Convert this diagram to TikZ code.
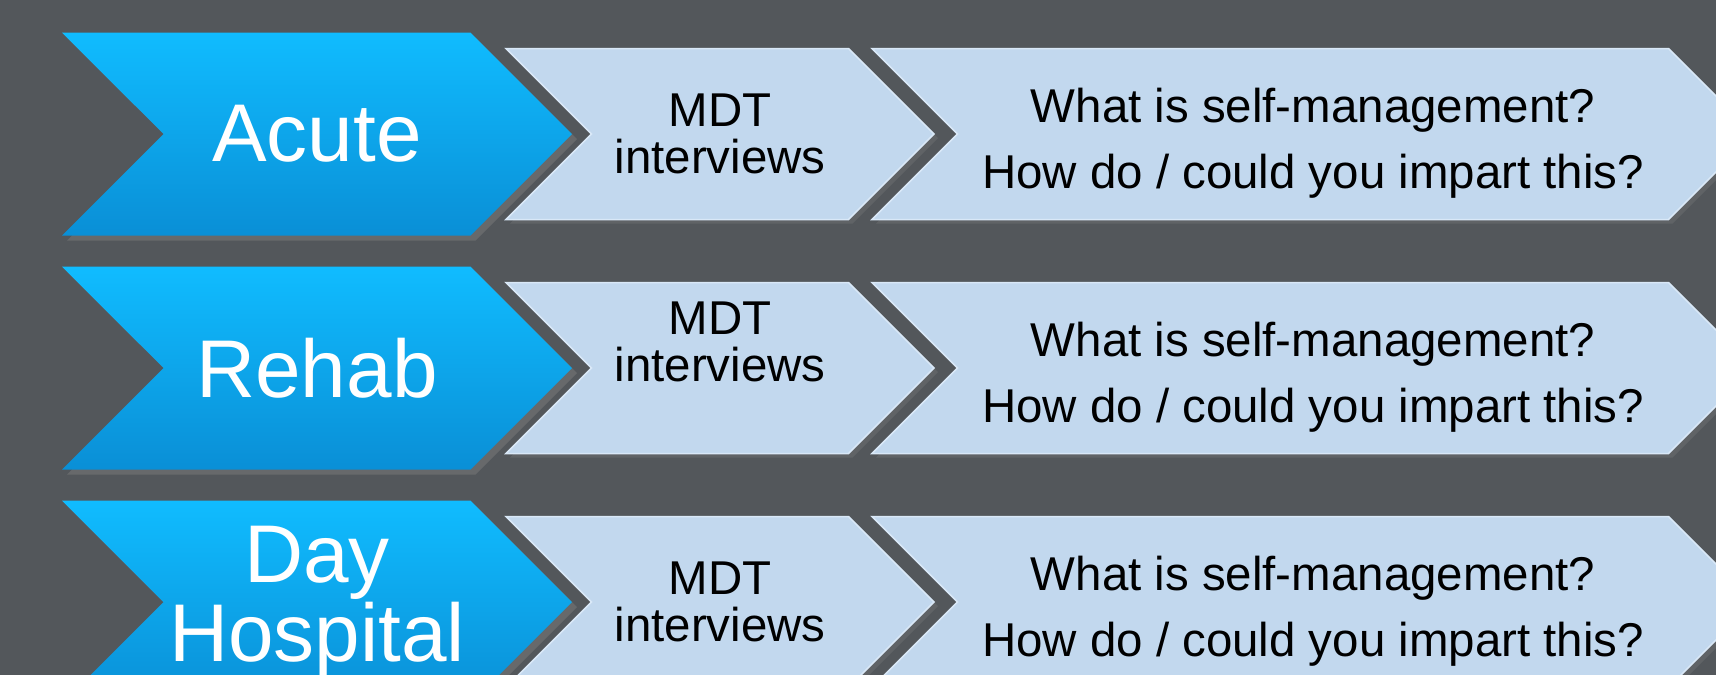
\documentclass[tikz,border=0pt]{standalone}
\usepackage{fontspec}
\setmainfont{Liberation Sans}
\usetikzlibrary{shapes.symbols,shadows}
\definecolor{slate}{HTML}{53575B}
\definecolor{cyanhi}{HTML}{10BCFF}
\definecolor{cyanlo}{HTML}{0A8FD6}
\definecolor{paleblue}{HTML}{C2D8EE}
\definecolor{paleedge}{HTML}{D9E8F7}
\tikzset{chev/.style={signal, signal from=west, signal to=east,
    signal pointer angle=90, inner sep=0pt, outer sep=0pt, align=center},
  phase/.style={chev, minimum width=51mm, minimum height=20.3mm,
    top color=cyanhi, bottom color=cyanlo, text=white,
    font=\fontsize{23.3}{22.5}\selectfont,
    drop shadow={shadow xshift=0.5mm, shadow yshift=-0.5mm, opacity=0.45}},
  mdtbox/.style={chev, minimum width=42.8mm, minimum height=17.1mm,
    fill=paleblue, draw=paleedge, line width=0.15mm,
    font=\fontsize{13.5}{13.5}\selectfont,
    drop shadow={shadow xshift=0.4mm, shadow yshift=-0.4mm, opacity=0.3}},
  qbox/.style={mdtbox, minimum width=88.2mm,
    font=\fontsize{13.5}{19}\selectfont}}
% the two questions; the strut sets them a little lower in the box
\newcommand\questions{\rule{0pt}{5.3mm}What is self-management?\\How do / could you impart this?}

\begin{document}
\begin{tikzpicture}
  % page and backdrop
  \useasboundingbox (0,0) rectangle (17.16,-6.75);
  \fill[slate] (0,0) rectangle (17.16,-6.75);
  % row 1
  \node[phase] (acute) at (3.17,-1.34) {Acute};
  \node[mdtbox] (mdtA) at (7.20,-1.34) {MDT\\interviews};
  \node[qbox] (qA) at (13.13,-1.34) {\questions};
  % row 2
  \node[phase] (rehab) at (3.17,-3.68) {Rehab};
  \node[mdtbox] (mdtB) at (7.20,-3.68) {MDT\\interviews\\[0.5mm]\mbox{}};
  \node[qbox] (qB) at (13.13,-3.68) {\questions};
  % row 3
  \node[phase] (dayh) at (3.17,-6.02) {Day\\Hospital};
  \node[mdtbox] (mdtC) at (7.20,-6.02) {MDT\\interviews};
  \node[qbox] (qC) at (13.13,-6.02) {\questions};
\end{tikzpicture}
\end{document}
